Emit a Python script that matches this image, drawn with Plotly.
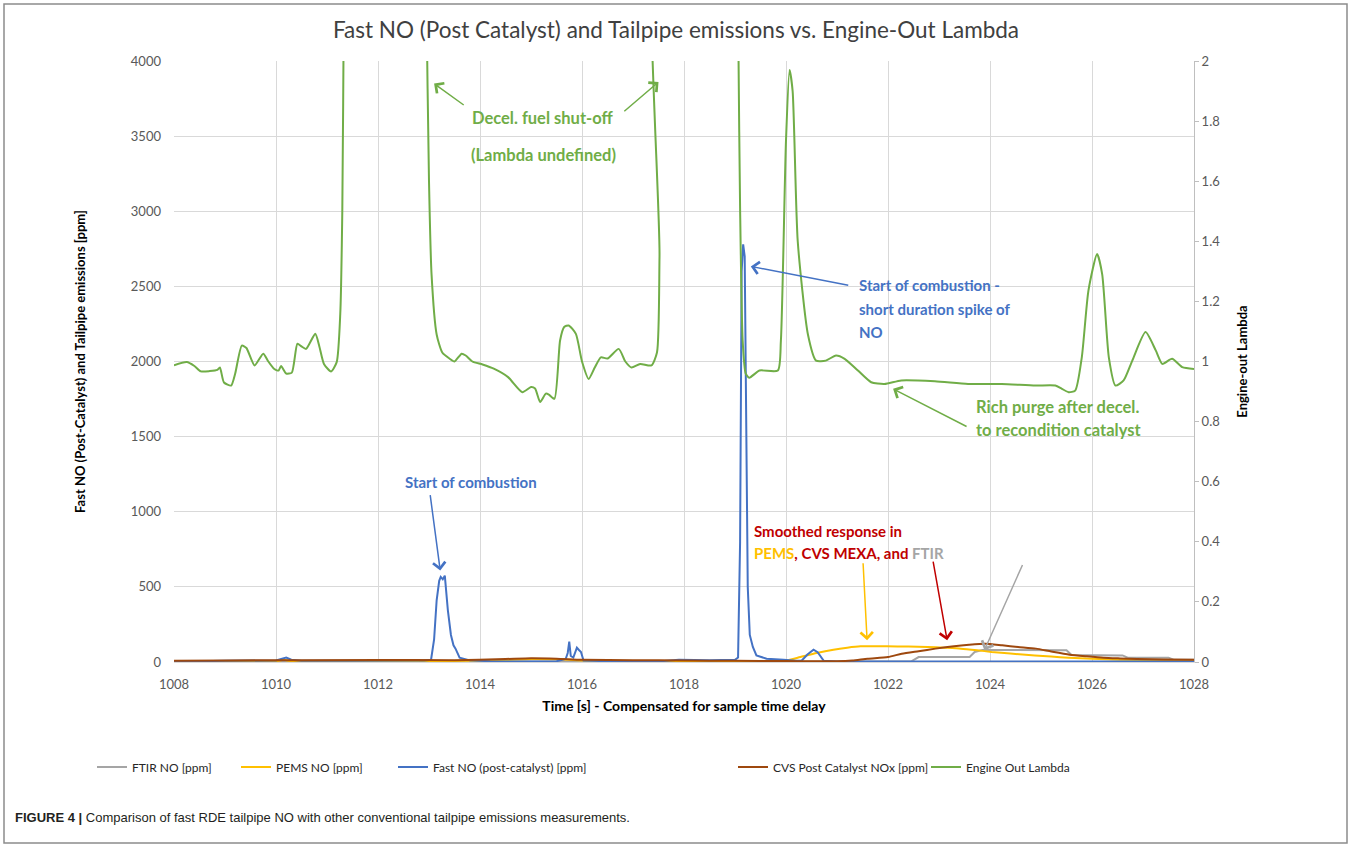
import plotly.graph_objects as go

# ---------------- data ----------------
lambda_t = [1008.0, 1008.25, 1008.4, 1008.53, 1008.7, 1008.85, 1008.9, 1008.98, 1009.12, 1009.2,
            1009.33, 1009.42, 1009.58, 1009.75, 1009.85, 1009.96, 1010.05, 1010.1, 1010.2, 1010.31,
            1010.42, 1010.5, 1010.59, 1010.77, 1010.85, 1010.94, 1011.08, 1011.19, 1011.26, 1011.3,
            1011.33, 1011.36, 1012.9, 1012.95, 1013.0, 1013.05, 1013.15, 1013.26, 1013.4, 1013.5,
            1013.64, 1013.72, 1013.85, 1014.05, 1014.27, 1014.55, 1014.83, 1015.0, 1015.08, 1015.18,
            1015.29, 1015.35, 1015.46, 1015.57, 1015.65, 1015.74, 1015.88, 1016.0, 1016.13, 1016.25,
            1016.37, 1016.5, 1016.72, 1016.85, 1016.97, 1017.14, 1017.36, 1017.47, 1017.52, 1017.56,
            1019.03, 1019.07, 1019.1, 1019.15, 1019.21, 1019.28, 1019.48, 1019.84, 1019.9, 1020.0,
            1020.07, 1020.13, 1020.23, 1020.43, 1020.59, 1020.78, 1020.98, 1021.15, 1021.41, 1021.67,
            1021.93, 1022.26, 1022.92, 1023.57, 1024.23, 1024.89, 1025.28, 1025.41, 1025.54, 1025.67,
            1025.8, 1025.93, 1026.1, 1026.2, 1026.33, 1026.46, 1026.62, 1026.79, 1027.05, 1027.25,
            1027.38, 1027.57, 1027.77, 1028.0]
lambda_v = [0.987, 0.998, 0.985, 0.967, 0.968, 0.972, 0.98, 0.93, 0.92, 0.96,
            1.053, 1.045, 0.987, 1.026, 1.0, 0.976, 0.97, 0.985, 0.96, 0.963,
            1.059, 1.05, 1.042, 1.092, 1.05, 0.992, 0.967, 0.998, 1.158, 1.5,
            2.2, 3.0, 3.0, 2.2, 1.6, 1.29, 1.09, 1.03, 1.01, 1.0,
            1.026, 1.02, 1.0, 0.99, 0.976, 0.948, 0.898, 0.915, 0.91, 0.865,
            0.893, 0.89, 0.876, 1.07, 1.115, 1.12, 1.092, 1.0, 0.942, 0.98,
            1.014, 1.01, 1.042, 1.0, 0.98, 0.992, 0.987, 1.03, 1.35, 3.0,
            3.0, 2.0, 1.51, 1.07, 0.96, 0.946, 0.97, 0.97, 1.07, 1.736,
            1.97, 1.90, 1.40, 1.09, 1.003, 1.003, 1.02, 1.009, 0.97, 0.931,
            0.925, 0.937, 0.934, 0.925, 0.925, 0.92, 0.92, 0.909, 0.898, 0.903,
            1.014, 1.236, 1.358, 1.29, 1.014, 0.92, 0.937, 1.003, 1.098, 1.037,
            0.992, 1.009, 0.981, 0.975]

fastno_t = [1008.0, 1008.8, 1009.0, 1010.0, 1010.12, 1010.2, 1010.3, 1010.5, 1011.5, 1012.5,
            1012.9, 1013.04, 1013.1, 1013.15, 1013.2, 1013.23, 1013.27, 1013.31, 1013.37, 1013.43,
            1013.48, 1013.52, 1013.6, 1013.8, 1014.2, 1015.0, 1015.5, 1015.68, 1015.72, 1015.75,
            1015.78, 1015.83, 1015.9, 1015.94, 1015.98, 1016.03, 1016.5, 1017.5, 1017.85, 1017.9,
            1018.5, 1019.0, 1019.06, 1019.1, 1019.13, 1019.16, 1019.19, 1019.22, 1019.25, 1019.29,
            1019.35, 1019.42, 1019.62, 1019.95, 1020.2, 1020.31, 1020.42, 1020.54, 1020.62, 1020.74,
            1021.0, 1028.0]
fastno_v = [2, 3, 8, 10, 20, 30, 15, 8, 8, 8,
            10, 15, 150, 411, 540, 566, 550, 575, 344, 180,
            111, 89, 29, 11, 5, 3, 5, 20, 60, 135,
            40, 30, 95, 80, 67, 10, 5, 4, 10, 15,
            12, 15, 30, 800, 2600, 2780, 2700, 1500, 500, 180,
            100, 44, 22, 15, 8, 10, 50, 82, 65, 8,
            3, 3]

pems_t = [1008.0, 1010.0, 1010.15, 1010.3, 1013.0, 1014.5, 1015.0, 1015.5, 1016.0, 1017.0,
          1019.0, 1019.5, 1020.0, 1020.28, 1020.6, 1020.93, 1021.2, 1021.46, 1021.98, 1022.4,
          1022.78, 1023.1, 1023.43, 1023.75, 1024.03, 1024.4, 1024.88, 1025.2, 1025.54, 1026.0,
          1026.53, 1027.2, 1028.0]
pems_v = [5, 5, 15, 5, 5, 12, 20, 18, 10, 5,
          5, 5, 10, 33, 60, 82, 95, 104, 104, 103,
          100, 95, 89, 78, 67, 56, 44, 36, 29, 21,
          15, 12, 10]

cvs_t = [1008.0, 1009.0, 1012.0, 1013.5, 1014.5, 1015.0, 1015.5, 1016.0, 1017.0, 1018.0,
         1019.0, 1020.0, 1021.0, 1021.3, 1021.6, 1022.0, 1022.27, 1022.6, 1022.93, 1023.25,
         1023.59, 1023.91, 1024.24, 1024.55, 1024.9, 1025.2, 1025.56, 1025.9, 1026.22, 1026.55,
         1026.88, 1027.4, 1028.0]
cvs_v = [8, 10, 14, 12, 20, 25, 22, 15, 12, 10,
         8, 6, 5, 10, 22, 33, 55, 72, 89, 103,
         115, 122, 111, 100, 89, 70, 49, 38, 29, 24,
         20, 17, 15]

ftir_t = [1008.0, 1022.45, 1022.6, 1023.6, 1023.7, 1023.85, 1025.5, 1025.6, 1026.6, 1026.7,
          1027.5, 1027.6, 1028.0]
ftir_v = [3, 3, 33, 33, 67, 80, 78, 46, 44, 29,
          29, 15, 15]

series_names = ["FTIR NO [ppm]", "PEMS NO [ppm]", "Fast NO (post-catalyst) [ppm]",
                "CVS Post Catalyst NOx [ppm]", "Engine Out Lambda"]
series_colors = ["#A5A5A5", "#FFC000", "#4472C4", "#9E480E", "#70AD47"]

x_ticks = list(range(1008, 1029, 2))

# ---------------- figure ----------------
FONT = "Lato"
fig = go.Figure()

data_sets = [(ftir_t, ftir_v, "y", "linear"), (pems_t, pems_v, "y", "spline"),
             (fastno_t, fastno_v, "y", "linear"), (cvs_t, cvs_v, "y", "spline"),
             (lambda_t, lambda_v, "y2", "spline")]
legend_ids = ["legend", "legend2", "legend3", "legend4", "legend5"]
for (t, v, ax, shp), name, col, lg in zip(data_sets, series_names, series_colors, legend_ids):
    line = dict(color=col, width=2, shape=shp)
    if shp == "spline":
        line["smoothing"] = 0.6
    fig.add_trace(go.Scatter(x=t, y=v, name=name, mode="lines", yaxis=ax,
                             line=line, legend=lg, showlegend=True))

# plot area in pixels: x 174..1194, y 61..662
L, R, T, B = 174, 1194, 61, 662
W, H = R - L, B - T


def px(x):
    return (x - L) / W


def py(y):
    return (B - y) / H


legend_line_starts = [97, 241, 398, 738, 931]
leg_layout = {}
for lg, xs in zip(legend_ids, legend_line_starts):
    leg_layout[lg] = dict(x=px(xs - 5), y=py(767), xanchor="left", yanchor="middle",
                          orientation="h", bgcolor="rgba(0,0,0,0)",
                          font=dict(family=FONT, size=12, color="#262626"))

green = "#70AD47"
blue = "#4472C4"
red = "#C00000"
gray = "#A5A5A5"
yellow = "#FFC000"

ann = []


def text_ann(x, y, text, color, anchor="center", size=14):
    ann.append(dict(x=x, y=y, xref="x", yref="y", text=text, showarrow=False,
                    xanchor=anchor, yanchor="middle",
                    font=dict(family=FONT, size=size, color=color)))


def arrow(xh, yh, xt, yt, color):
    ann.append(dict(x=xh, y=yh, ax=xt, ay=yt, xref="x", yref="y", axref="x", ayref="y",
                    text="", showarrow=True, arrowhead=4, arrowsize=1.6, arrowwidth=1.5,
                    arrowcolor=color, standoff=0, startstandoff=0))


text_ann(1015.22, 3620, "<b>Decel. fuel shut-off</b>", green, size=16.5)
text_ann(1015.25, 3375, "<b>(Lambda undefined)</b>", green, size=16.5)
arrow(1013.1, 3850, 1013.71, 3700, green)
arrow(1017.5, 3860, 1016.8, 3657, green)

text_ann(1013.83, 1196, "<b>Start of combustion</b>", blue, size=15)
arrow(1013.22, 609, 1013.02, 1120, blue)

text_ann(1021.40, 2506, "<b>Start of combustion -</b>", blue, "left", 15)
text_ann(1021.40, 2351, "<b>short duration spike of</b>", blue, "left", 15)
text_ann(1021.40, 2196, "<b>NO</b>", blue, "left", 15)
arrow(1019.31, 2633, 1021.25, 2506, blue)

text_ann(1023.69, 1696, "<b>Rich purge after decel.</b>", green, "left", 16.5)
text_ann(1023.69, 1545, "<b>to recondition catalyst</b>", green, "left", 16.5)
arrow(1022.1, 1818, 1023.57, 1562, green)

text_ann(1019.33, 872, "<b>Smoothed response in</b>", red, "left", 15)
text_ann(1019.33, 725,
         f"<b><span style='color:{yellow}'>PEMS</span>, CVS MEXA, and "
         f"<span style='color:{gray}'>FTIR</span></b>", red, "left", 15)
arrow(1021.59, 144, 1021.51, 667, yellow)
arrow(1023.16, 144, 1022.88, 678, red)
arrow(1023.89, 78, 1024.65, 656, gray)

# caption
ann.append(dict(x=px(13), y=py(817), xref="paper", yref="paper", xanchor="left",
                yanchor="middle", showarrow=False,
                text="<b>FIGURE 4 |</b> Comparison of fast RDE tailpipe NO with other "
                     "conventional tailpipe emissions measurements.",
                font=dict(family="Liberation Sans Narrow, Liberation Sans, Arial, sans-serif",
                          size=13, color="#231F20")))

fig.update_layout(
    width=1352, height=847,
    template="none",
    showlegend=True,
    paper_bgcolor="white", plot_bgcolor="white",
    margin=dict(l=L, r=1352 - R, t=T, b=847 - B, autoexpand=False),
    title=dict(text="Fast NO (Post Catalyst) and Tailpipe emissions vs. Engine-Out Lambda",
               x=0.5, xanchor="center", y=1 - 30 / 847, yanchor="middle",
               font=dict(family=FONT, size=22.5, color="#404040")),
    xaxis=dict(range=[1008, 1028], tickvals=x_ticks, showgrid=True, gridcolor="#D9D9D9",
               gridwidth=1, zeroline=False, showline=True, linecolor="#D9D9D9",
               ticks="", automargin=False, ticklabelstandoff=10,
               tickfont=dict(family=FONT, size=13, color="#595959"),
               title=dict(text="<b>Time [s] - Compensated for sample time delay</b>",
                          standoff=10, font=dict(family=FONT, size=14, color="#000000"))),
    yaxis=dict(range=[0, 4000], dtick=500, tick0=0, showgrid=True, gridcolor="#D9D9D9",
               zeroline=False, showline=False, ticks="", automargin=False,
               ticklabelstandoff=12,
               tickfont=dict(family=FONT, size=13, color="#595959"),
               title=dict(text="<b>Fast NO (Post-Catalyst) and Tailpipe emissions [ppm]</b>",
                          standoff=42, font=dict(family=FONT, size=13, color="#000000"))),
    yaxis2=dict(range=[0, 2], dtick=0.2, tick0=0, overlaying="y", side="right",
                showgrid=False, zeroline=False, showline=True, linecolor="#BFBFBF",
                ticks="outside", ticklen=4, tickcolor="#BFBFBF", automargin=False,
                tickfont=dict(family=FONT, size=13, color="#595959"),
                title=dict(text="<b>Engine-out Lambda</b>", standoff=18,
                           font=dict(family=FONT, size=13, color="#000000"))),
    annotations=ann,
    shapes=[dict(type="rect", xref="paper", yref="paper", x0=px(4), x1=px(1347),
                 y0=py(843), y1=py(4), line=dict(color="#8C8C8C", width=1.5),
                 fillcolor="rgba(0,0,0,0)", layer="below")],
    **leg_layout,
)

fig.write_html("out.html", config={"displayModeBar": False},
               post_script="document.body.style.margin='0';")
